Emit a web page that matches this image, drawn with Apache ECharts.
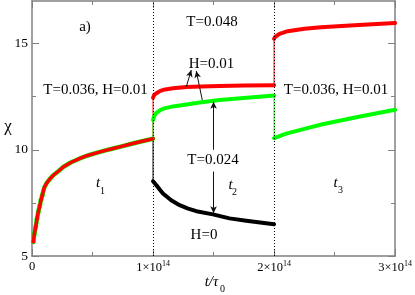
<!DOCTYPE html>
<html><head><meta charset="utf-8">
<script src="https://cdn.jsdelivr.net/npm/echarts@6/dist/echarts.min.js"></script>
<style>html,body{margin:0;padding:0;background:#fff}#c{width:415px;height:295px}</style>
</head><body><div id="c"></div>
<script>
// ---- data (time in units of 1e14 tau0) ----
const xTicks = [0, 1, 2, 3];
const xTickText = ['0', '1×10', '2×10', '3×10'];
const xTickExp = ['', '14', '14', '14'];
const yTicks = [5, 10, 15];
const yMinorTicks = [7.5, 12.5];

const t1Time = [0.011, 0.019, 0.031, 0.041, 0.052, 0.064, 0.074, 0.085, 0.1, 0.121, 0.148, 0.176, 0.22, 0.258, 0.32, 0.396, 0.46, 0.533, 0.6, 0.67, 0.74, 0.808, 0.9, 1.0];
const t1Chi  = [5.67, 6.03, 6.38, 6.74, 7.08, 7.36, 7.63, 7.86, 8.2, 8.43, 8.63, 8.8, 9.0, 9.19, 9.4, 9.59, 9.73, 9.85, 9.96, 10.06, 10.16, 10.26, 10.39, 10.52];
const t1DotCount = 8;

const t2Time  = [1.0, 1.01, 1.028, 1.06, 1.1, 1.165, 1.275, 1.4, 1.55, 1.75, 2.0];
const redT2   = [12.45, 12.58, 12.66, 12.77, 12.84, 12.89, 12.95, 12.98, 13.0, 13.02, 13.04];
const greenT2 = [11.4, 11.6, 11.74, 11.87, 11.96, 12.04, 12.13, 12.24, 12.34, 12.44, 12.55];

const blackTime = [1.0, 1.028, 1.055, 1.082, 1.15, 1.22, 1.29, 1.358, 1.495, 1.632, 1.77, 2.0];
const blackT2   = [8.52, 8.33, 8.13, 7.94, 7.62, 7.39, 7.23, 7.11, 6.96, 6.77, 6.66, 6.49];

const redT3Time = [2.0, 2.01, 2.045, 2.113, 2.25, 2.388, 2.663, 3.0];
const redT3     = [15.22, 15.32, 15.45, 15.58, 15.69, 15.77, 15.86, 15.96];
const greenT3Time = [2.0, 2.1, 2.25, 2.4, 2.55, 2.7, 2.85, 3.0];
const greenT3     = [10.55, 10.76, 10.98, 11.2, 11.38, 11.55, 11.72, 11.88];

const switchTimes = [1, 2];

// ---- build ----
const zip = (a, b) => a.map((v, i) => [v, b[i]]);
const last = a => a[a.length - 1];
const RED = '#ff0000', GREEN = '#00ff00', BLACK = '#000000';
const FONT = 'Liberation Serif';
const GRAY = '#808080';

function curve(data, color, width, z) {
  return { type: 'line', data, showSymbol: false, symbol: 'none', z: z || 3,
    lineStyle: { color, width, cap: 'round', join: 'round' }, silent: true };
}
function jump(t, a, b, color) {
  return { type: 'line', data: [[t, a], [t, b]], showSymbol: false, symbol: 'none', z: 2,
    lineStyle: { color, width: 1 }, silent: true };
}
function dots(data, color, size, z) {
  return { type: 'scatter', data, symbol: 'circle', symbolSize: size, z,
    itemStyle: { color }, silent: true };
}

const t1 = zip(t1Time, t1Chi);
const series = [
  curve(t1, GREEN, 4.5, 3),
  dots(t1.slice(0, t1DotCount), GREEN, 5, 4),
  curve(t1, RED, 3.5, 5),
  dots(t1.slice(0, t1DotCount), RED, 3.5, 6),
  curve(zip(t2Time, greenT2), GREEN, 4),
  curve(zip(t2Time, redT2), RED, 4),
  curve(zip(blackTime, blackT2), BLACK, 4),
  curve(zip(greenT3Time, greenT3), GREEN, 4),
  curve(zip(redT3Time, redT3), RED, 4),
  jump(switchTimes[0], last(t1Chi), redT2[0], RED),
  jump(switchTimes[0], last(t1Chi), greenT2[0], GREEN),
  jump(switchTimes[0], last(t1Chi), blackT2[0], BLACK),
  jump(switchTimes[1], last(redT2), redT3[0], RED),
  jump(switchTimes[1], last(greenT2), greenT3[0], GREEN),
  { type: 'line', data: [], silent: true,
    markLine: { silent: true, symbol: ['none', 'none'], label: { show: false },
      lineStyle: { color: '#000', width: 1, type: [1, 2] },
      data: switchTimes.map(t => ({ xAxis: t })) } },
  { type: 'line', data: [], silent: true,
    markLine: { silent: true, symbol: ['none', 'arrow'], symbolSize: [5, 7], label: { show: false },
      lineStyle: { color: '#111', width: 1, type: 'solid' },
      data: [
        [{ coord: [1.275, 12.97] }, { coord: [1.316, 13.75] }],
        [{ coord: [1.407, 12.34] }, { coord: [1.357, 13.71] }],
        [{ coord: [1.5, 10.0] }, { coord: [1.5, 12.26] }],
        [{ coord: [1.5, 8.97] }, { coord: [1.5, 7.01] }]
      ] } }
];

function yAx(position, ticks, len, showLine, showLabel) {
  return { type: 'value', position, min: 5, max: 17,
    axisLine: { show: showLine, onZero: false, lineStyle: { color: GRAY, width: 1.5 } },
    axisTick: { show: true, inside: true, length: len, customValues: ticks, lineStyle: { color: GRAY, width: 1 } },
    axisLabel: { show: showLabel, customValues: yTicks, color: '#000', fontFamily: FONT, fontSize: 13.5, margin: 4 },
    splitLine: { show: false } };
}
function xAx(position, showLabel) {
  return { type: 'value', position, min: 0, max: 3, interval: 1,
    axisLine: { show: true, onZero: false, lineStyle: { color: GRAY, width: 1.5 } },
    axisTick: { show: true, inside: true, length: 7, lineStyle: { color: GRAY, width: 1 } },
    minorTick: { show: true, splitNumber: 2, length: 4, lineStyle: { color: GRAY, width: 1 } },
    axisLabel: { show: showLabel, margin: 4, color: '#000', fontFamily: FONT,
      formatter: v => { const i = xTicks.indexOf(v); if (i < 0) return ''; 
        return xTickExp[i] ? '{m|' + xTickText[i] + '}{s|' + xTickExp[i] + '}' : '{m|' + xTickText[i] + '}'; },
      rich: { m: { fontSize: 12.5, fontFamily: FONT, color: '#000' },
              s: { fontSize: 8, fontFamily: FONT, color: '#000', padding: [0, 0, 8, 0] } } },
    splitLine: { show: false }, minorSplitLine: { show: false } };
}

function txt(text, x, y, size, opts) {
  return Object.assign({ type: 'text', silent: true, z: 100,
    style: Object.assign({ text, x, y, font: (opts && opts.italic ? 'italic ' : '') + size + 'px "' + FONT + '"',
      fill: '#000', textAlign: 'center', textVerticalAlign: 'middle' }, opts && opts.style) },
    opts && opts.el);
}

const option = {
  animation: false,
  backgroundColor: '#fff',
  grid: { left: 32, right: 19, top: 1, bottom: 39, containLabel: false },
  xAxis: [xAx('bottom', true), xAx('top', false)],
  yAxis: [yAx('left', yTicks, 7, true, true), yAx('left', yMinorTicks, 4, false, false),
          yAx('right', yTicks, 7, true, false), yAx('right', yMinorTicks, 4, false, false)],
  series: series.map(s => Object.assign({ xAxisIndex: 0, yAxisIndex: 0 }, s)),
  graphic: [
    txt('a)', 85, 27, 15),
    txt('T=0.036, H=0.01', 95.5, 90, 15),
    txt('T=0.036, H=0.01', 336, 90, 15),
    txt('T=0.048', 212, 22, 15),
    txt('H=0.01', 211.5, 64, 15),
    txt('T=0.024', 213, 160, 15),
    txt('H=0', 204, 235, 15),
    txt('t', 98, 183, 15, { italic: true }),
    txt('1', 102.5, 191, 10),
    txt('t', 230.5, 185, 15, { italic: true }),
    txt('2', 234.5, 192, 10),
    txt('t', 335.5, 183, 15, { italic: true }),
    txt('3', 340.5, 190, 10),
    txt('t/τ', 211.5, 282, 15, { italic: true }),
    txt('0', 222.5, 289, 10),
    txt('χ', 8, 127, 17)
  ]
};

const chart = echarts.init(document.getElementById('c'), null, { renderer: 'canvas' });
chart.setOption(option);
</script>
</body></html>
